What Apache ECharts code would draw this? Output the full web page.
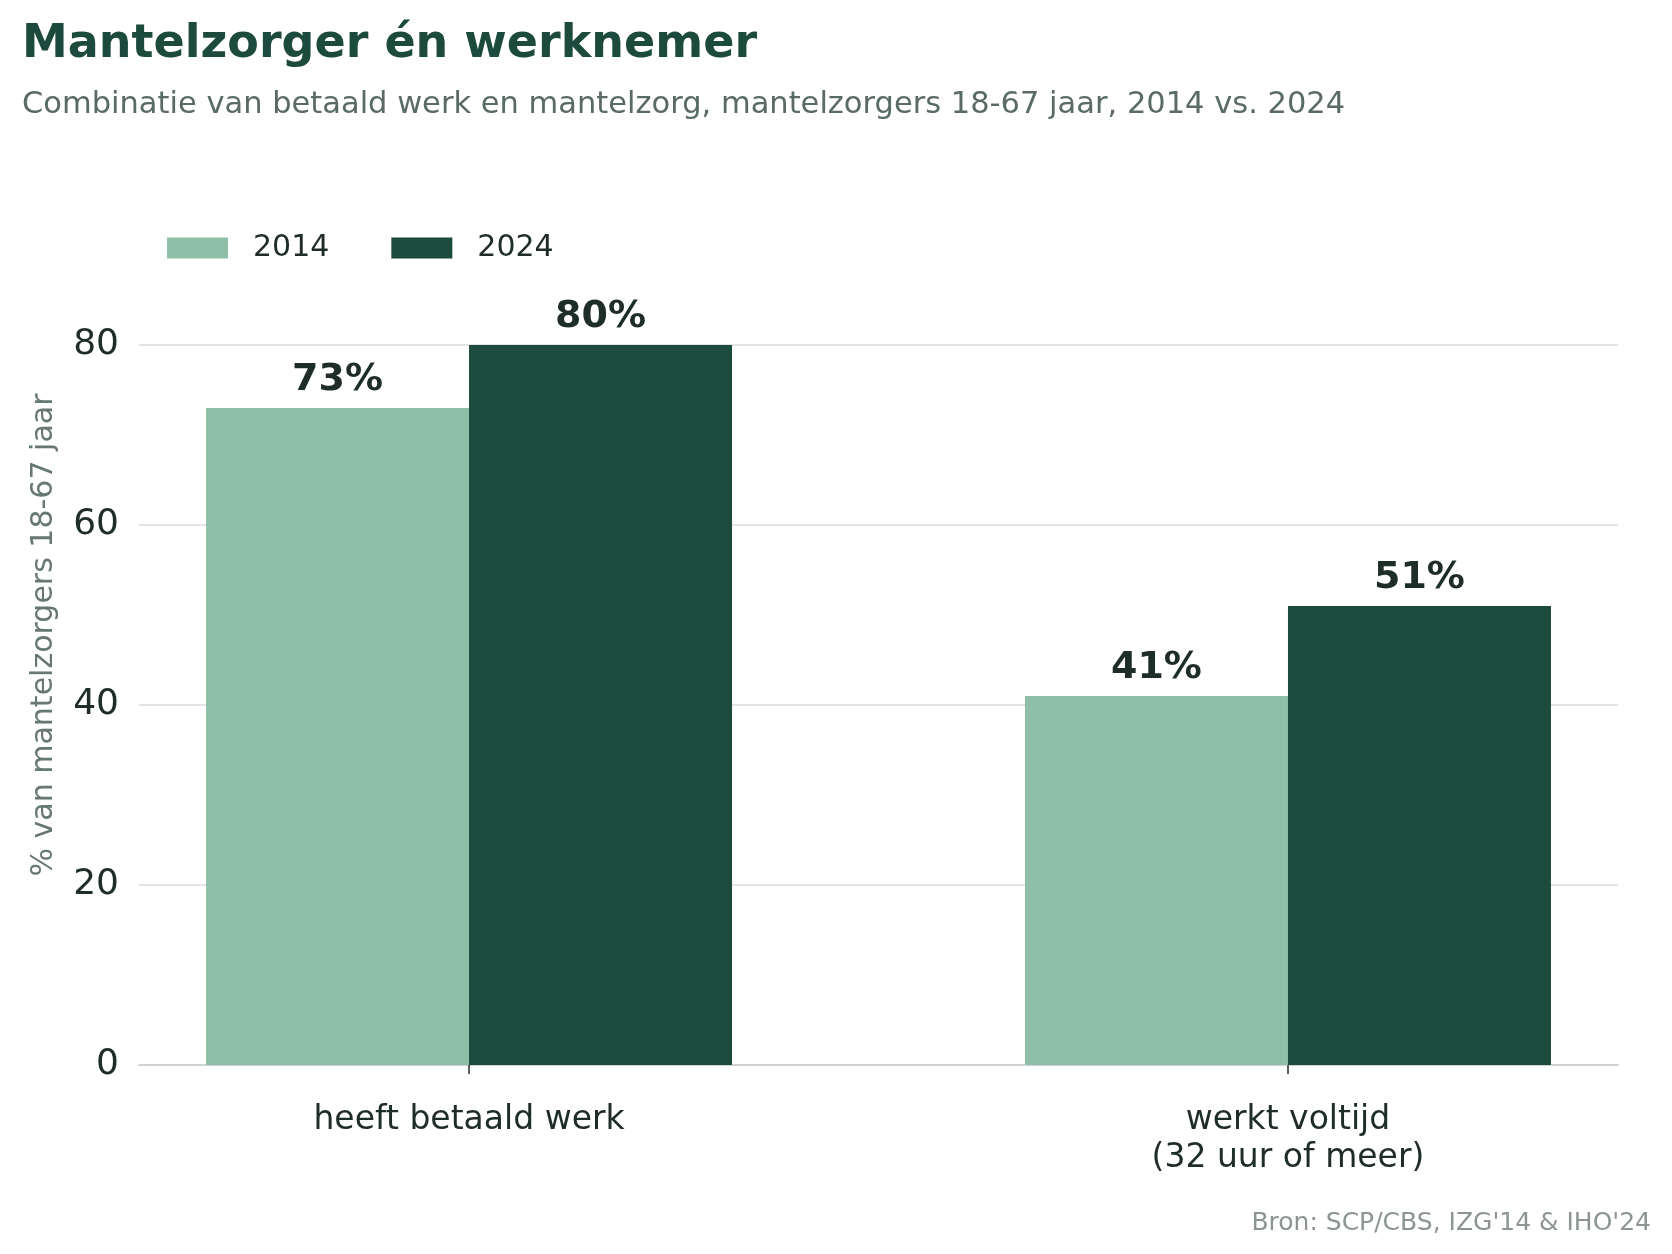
<!DOCTYPE html>
<html>
<head>
<meta charset="utf-8">
<script src="https://cdn.jsdelivr.net/npm/echarts@6/dist/echarts.min.js"></script>
<style>
html,body{margin:0;padding:0;background:#fff;}
#chart{width:1672px;height:1254px;}
</style>
</head>
<body>
<div id="chart"></div>
<script>
const categories = ['heeft betaald werk', 'werkt voltijd\n(32 uur of meer)'];
const seriesNames = ['2014', '2024'];
const values2014 = [73, 41];
const values2024 = [80, 51];
const yTicks = [0, 20, 40, 60, 80];

const FONT = 'DejaVu Sans';
const DARK = '#1f2d29';

function toPoints(vals) {
  return vals.map((v, i) => [i, v]);
}

const chart = echarts.init(document.getElementById('chart'), null, {renderer: 'canvas'});

const labelOpt = {
  show: true,
  position: 'top',
  distance: 9,
  fontFamily: FONT,
  fontWeight: 'bold',
  fontSize: 38,
  color: DARK,
  formatter: p => p.value[1] + '%'
};

chart.setOption({
  backgroundColor: '#ffffff',
  animation: false,
  textStyle: {fontFamily: FONT},
  title: [
    {
      text: 'Mantelzorger én werknemer',
      left: 17, top: 17,
      textStyle: {fontFamily: FONT, fontSize: 46, fontWeight: 'bold', color: '#1c4a3c'}
    },
    {
      text: 'Combinatie van betaald werk en mantelzorg, mantelzorgers 18-67 jaar, 2014 vs. 2024',
      left: 17, top: 85,
      textStyle: {fontFamily: FONT, fontSize: 30.5, fontWeight: 'normal', color: '#5a6b66'}
    },
    {
      text: "Bron: SCP/CBS, IZG'14 & IHO'24",
      right: 16, top: 1206,
      textStyle: {fontFamily: FONT, fontSize: 25, fontWeight: 'normal', color: '#8c9592'}
    }
  ],
  legend: {
    left: 167, top: 233,
    padding: 0,
    itemWidth: 61, itemHeight: 21,
    itemGap: 62,
    icon: 'rect',
    textStyle: {fontFamily: FONT, fontSize: 30, color: DARK, padding: [0, 0, 0, 20]},
    data: seriesNames
  },
  grid: {left: 139, right: 54, top: 345, bottom: 189, containLabel: false},
  xAxis: {
    type: 'value',
    min: -0.403,
    max: 1.403,
    splitLine: {show: false},
    axisLine: {show: true, onZero: false, lineStyle: {color: '#cfd4d2', width: 2}},
    axisTick: {show: true, length: 9, customValues: [0, 1], lineStyle: {color: DARK, width: 1.5}},
    axisLabel: {
      show: true,
      customValues: [0, 1],
      margin: 36,
      fontFamily: FONT, fontSize: 33, color: DARK, lineHeight: 38,
      formatter: v => categories[Math.round(v)]
    }
  },
  yAxis: {
    type: 'value',
    min: 0, max: 80, interval: 20,
    name: '% van mantelzorgers 18-67 jaar',
    nameLocation: 'middle',
    nameGap: 80,
    nameTextStyle: {fontFamily: FONT, fontSize: 30, color: '#66786f', padding: [0, 0, 0, 140]},
    axisLine: {show: false},
    axisTick: {show: false},
    axisLabel: {margin: 20, fontFamily: FONT, fontSize: 36, color: DARK, padding: [8, 0, 0, 0]},
    splitLine: {show: true, lineStyle: {color: '#e3e5e4', width: 2}}
  },
  series: [
    {
      name: seriesNames[0], type: 'bar',
      data: toPoints(values2014),
      barWidth: 263, barGap: '0%',
      itemStyle: {color: '#8fbfa8'},
      label: labelOpt
    },
    {
      name: seriesNames[1], type: 'bar',
      data: toPoints(values2024),
      barWidth: 263, barGap: '0%',
      itemStyle: {color: '#1c4a3c'},
      label: labelOpt
    }
  ]
});
</script>
</body>
</html>
